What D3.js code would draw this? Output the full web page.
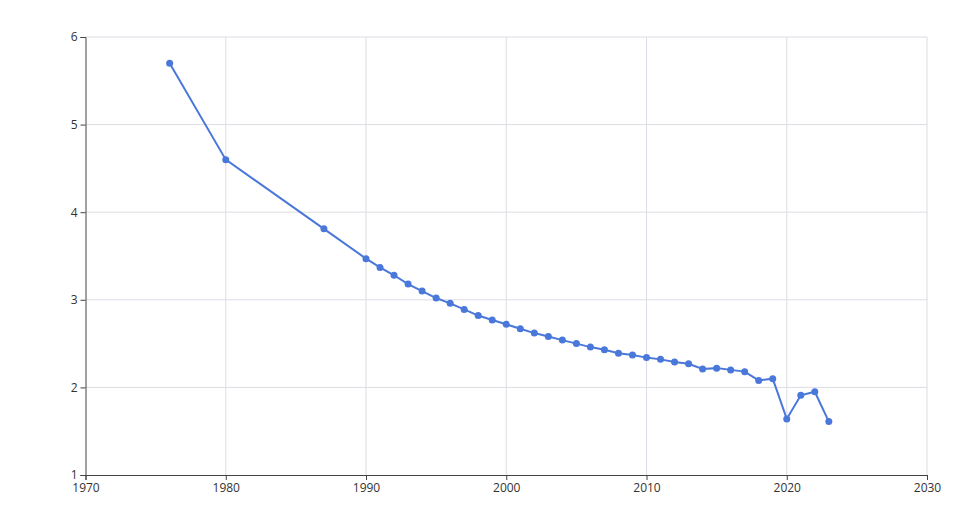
<!DOCTYPE html>
<html>
<head>
<meta charset="utf-8">
<script src="https://cdn.jsdelivr.net/npm/d3@7"></script>
<style>
body { margin: 0; background: #fff; }
svg { display: block; }
</style>
</head>
<body>
<svg id="svg" width="978" height="523"></svg>
<script>
var years = [1976, 1980, 1987, 1990, 1991, 1992, 1993, 1994, 1995, 1996, 1997, 1998, 1999,
    2000, 2001, 2002, 2003, 2004, 2005, 2006, 2007, 2008, 2009, 2010, 2011, 2012, 2013,
    2014, 2015, 2016, 2017, 2018, 2019, 2020, 2021, 2022, 2023];
var values = [5.70, 4.60, 3.81, 3.47, 3.37, 3.28, 3.18, 3.10, 3.02, 2.96, 2.89, 2.82, 2.77,
    2.72, 2.67, 2.62, 2.58, 2.54, 2.50, 2.46, 2.43, 2.39, 2.37, 2.34, 2.32, 2.29, 2.27,
    2.21, 2.22, 2.20, 2.18, 2.08, 2.10, 1.64, 1.91, 1.95, 1.61];
var xTicks = [1970, 1980, 1990, 2000, 2010, 2020, 2030];
var yTicks = [1, 2, 3, 4, 5, 6];

var marginLeft = 85.5;
var marginTop = 37;
var plotW = 927 - marginLeft;
var plotH = 475 - marginTop;

var data = years.map(function (y, i) { return {year: y, value: values[i]}; });

var svg = d3.select('svg')
    .append('g')
    .attr('transform', 'translate(' + marginLeft + ',' + marginTop + ')');

var x = d3.scaleLinear().domain([1970, 2030]).range([0, plotW]);
var y = d3.scaleLinear().domain([1, 6]).range([plotH, 0]);

// grid
svg.append('g')
    .selectAll('line.h')
    .data(yTicks.slice(1))
    .enter()
    .append('line')
    .attr('x1', 0).attr('x2', plotW)
    .attr('y1', function (d) { return y(d); })
    .attr('y2', function (d) { return y(d); })
    .attr('stroke', '#dcdce4');

svg.append('g')
    .selectAll('line.v')
    .data(xTicks.slice(1))
    .enter()
    .append('line')
    .attr('y1', 0).attr('y2', plotH)
    .attr('x1', function (d) { return x(d); })
    .attr('x2', function (d) { return x(d); })
    .attr('stroke', '#dcdce4');

// axes
var xAxis = svg.append('g')
    .attr('transform', 'translate(0,' + plotH + ')')
    .call(d3.axisBottom(x).tickValues(xTicks).tickFormat(d3.format('d')).tickSizeOuter(0).tickSize(5));

var yAxis = svg.append('g')
    .call(d3.axisLeft(y).tickValues(yTicks).tickFormat(d3.format('d')).tickSizeOuter(0).tickSize(5));

[xAxis, yAxis].forEach(function (a) {
    a.attr('font-family', '"Open Sans", "DejaVu Sans", sans-serif').attr('font-size', 12);
    a.select('.domain').attr('stroke', '#444');
    a.selectAll('.tick line').attr('stroke', '#444');
    a.selectAll('.tick text').attr('fill', '#333');
});

// line
var line = d3.line()
    .x(function (d) { return x(d.year); })
    .y(function (d) { return y(d.value); });

svg.append('path')
    .datum(data)
    .attr('d', line)
    .attr('fill', 'none')
    .attr('stroke', '#4a77da')
    .attr('stroke-width', 2);

svg.selectAll('circle')
    .data(data)
    .enter()
    .append('circle')
    .attr('cx', function (d) { return x(d.year); })
    .attr('cy', function (d) { return y(d.value); })
    .attr('r', 3.5)
    .attr('fill', '#4a77da');
</script>
</body>
</html>
